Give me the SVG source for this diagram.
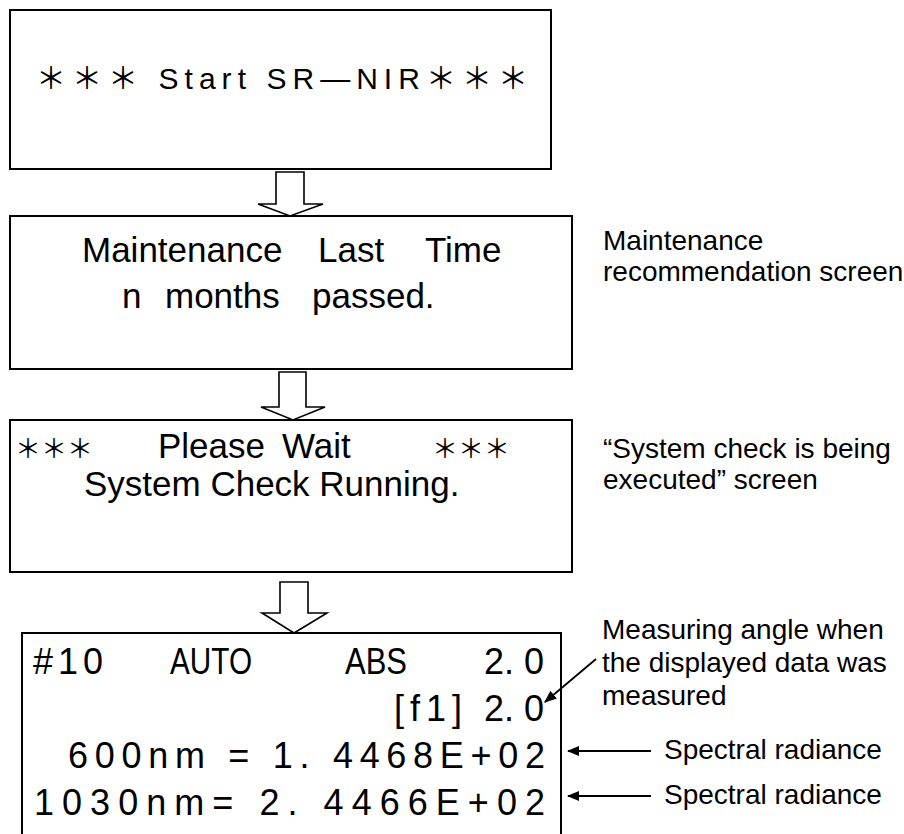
<svg xmlns="http://www.w3.org/2000/svg" width="904" height="834" viewBox="0 0 904 834">
<defs>
<style>
.box{fill:#fff;stroke:#000;stroke-width:2}
.blk{fill:#fff;stroke:#000;stroke-width:1.6;stroke-linejoin:miter}
.t{font-family:"Liberation Sans","Noto Sans CJK JP",sans-serif;fill:#000}
.scr{font-size:35px}
.big{font-size:36px}
.ast{font-family:"Noto Sans CJK JP","Liberation Sans",sans-serif;font-size:26px;fill:#000}
.lbl{font-family:"Liberation Sans",Arial,sans-serif;font-size:28px;fill:#000}
.ln{stroke:#000;stroke-width:1.8;fill:none}
</style>
<marker id="ah" viewBox="0 0 10 10" refX="9" refY="5" markerWidth="7" markerHeight="7" orient="auto" markerUnits="strokeWidth">
<path d="M0,1 L10,5 L0,9 Z" fill="#000"/>
</marker>
</defs>
<rect width="904" height="834" fill="#fff"/>
<g id="screen-start">
<rect class="box" x="10" y="10" width="541" height="159"/>
<text class="t" x="36" y="89" font-size="30" textLength="492" lengthAdjust="spacing">＊＊＊ Start SR—NIR＊＊＊</text>
</g>
<g id="screen-maintenance">
<rect class="box" x="10" y="216" width="562" height="153"/>
<text class="t scr" y="262"><tspan x="82">Maintenance</tspan><tspan x="318">Last</tspan><tspan x="425">Time</tspan></text>
<text class="t scr" y="308"><tspan x="122">n</tspan><tspan x="165">months</tspan><tspan x="312">passed.</tspan></text>
</g>
<g id="label-maintenance">
<text class="lbl" x="603" y="250">Maintenance</text>
<text class="lbl" x="603" y="281">recommendation screen</text>
</g>
<g id="screen-wait">
<rect class="box" x="10" y="420" width="562" height="152"/>
<text class="ast" y="458"><tspan x="15">＊＊＊</tspan><tspan x="432">＊＊＊</tspan></text>
<text class="t scr" y="458"><tspan x="158">Please</tspan><tspan x="282">Wait</tspan></text>
<text class="t scr" x="84" y="496">System Check Running.</text>
</g>
<g id="label-wait">
<text class="lbl" x="603" y="458">“System check is being</text>
<text class="lbl" x="603" y="489">executed” screen</text>
</g>
<g id="screen-measure">
<path class="box" d="M22,836 V633 H561 V836"/>
<text class="t big" y="674"><tspan x="33" textLength="70" lengthAdjust="spacing">#10</tspan><tspan x="170" textLength="82" lengthAdjust="spacingAndGlyphs">AUTO</tspan><tspan x="345" textLength="62" lengthAdjust="spacingAndGlyphs">ABS</tspan><tspan x="484">2. 0</tspan></text>
<text class="t big" y="721"><tspan x="394" textLength="68" lengthAdjust="spacing">[f1]</tspan><tspan x="484">2. 0</tspan></text>
<text class="t big" x="68" y="768" textLength="477" lengthAdjust="spacing">600nm = 1. 4468E+02</text>
<text class="t big" x="34" y="815" textLength="511" lengthAdjust="spacing">1030nm= 2. 4466E+02</text>
</g>
<g id="label-angle">
<text class="lbl" x="602" y="639">Measuring angle when</text>
<text class="lbl" x="602" y="672">the displayed data was</text>
<text class="lbl" x="602" y="705">measured</text>
</g>
<g id="label-radiance">
<text class="lbl" x="664" y="759">Spectral radiance</text>
<text class="lbl" x="664" y="804">Spectral radiance</text>
</g>
<g id="connectors">
<polygon class="blk" points="276,172 304,172 304,204 323,204 290,216 258,204 276,204"/>
<polygon class="blk" points="279,372 306,372 306,407 325,407 293,420 261,407 279,407"/>
<polygon class="blk" points="280,582 308,582 308,613 327,613 294,633 262,613 280,613"/>
<line class="ln" x1="596" y1="659" x2="545" y2="702" marker-end="url(#ah)"/>
<line class="ln" x1="651" y1="751" x2="568" y2="751" marker-end="url(#ah)"/>
<line class="ln" x1="651" y1="796" x2="568" y2="796" marker-end="url(#ah)"/>
</g>
</svg>
